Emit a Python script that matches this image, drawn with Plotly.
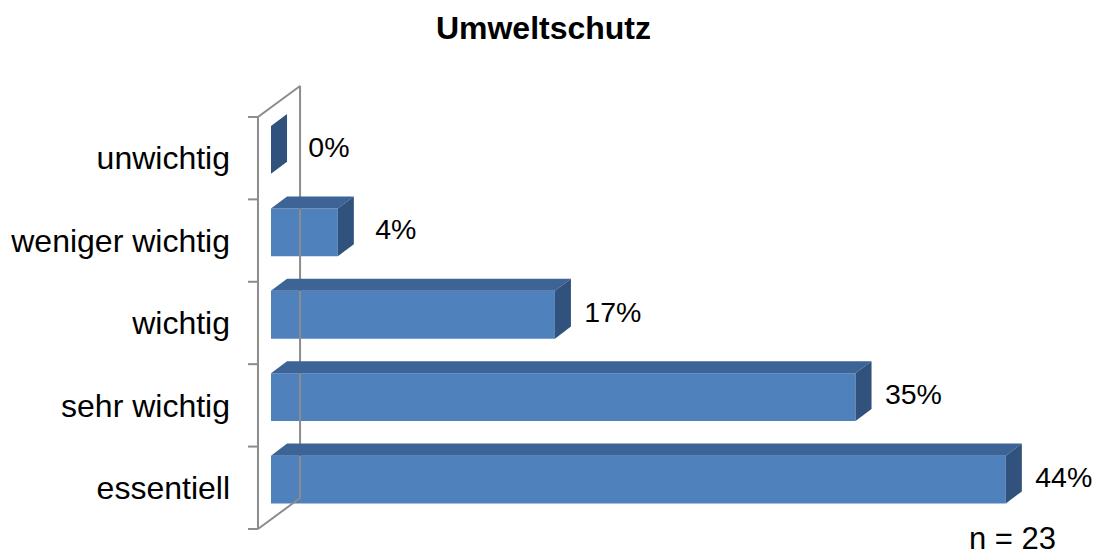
import plotly.graph_objects as go

# data (bottom to top)
categories = ["essentiell", "sehr wichtig", "wichtig", "weniger wichtig", "unwichtig"]
values = [44, 35, 17, 4, 0]
title = "Umweltschutz"
n_note = "n = 23"

FONT = "Liberation Sans, Arial, sans-serif"
FRONT = "#4F81BD"
TOP = "#3C6496"
SIDE = "#30527D"
GRID = "#8C8C8C"

# 3d look, in axis units
bar_w = 0.58      # front face height
bar_off = 0.1     # bars sit a bit above the category centre
dx, dy = 0.96, 0.146  # depth of bars

ys = [i + bar_off for i in range(len(categories))]

# top and side faces as filled polygons
top_x, top_y, side_x, side_y = [], [], [], []
for v, y in zip(values, ys):
    y0, y1 = y - bar_w / 2, y + bar_w / 2
    top_x += [0, v, v + dx, dx, 0, None]
    top_y += [y1, y1, y1 + dy, y1 + dy, y1, None]
    side_x += [v, v, v + dx, v + dx, v, None]
    side_y += [y0, y1, y1 + dy, y0 + dy, y0, None]

# back wall of the chart (parallelogram) and tick marks
wx0, wx1 = -0.78, 1.74
wall_x = [wx0, wx0, wx1, wx1, wx0]
wall_y = [-0.5, 4.5, 4.876, -0.124, -0.5]
tick_x, tick_y = [], []
for k in range(len(categories) + 1):
    tick_x += [-1.38, wx0, None]
    tick_y += [k - 0.5, k - 0.5, None]

fig = go.Figure()
fig.add_trace(go.Scatter(x=wall_x, y=wall_y, mode="lines",
                         line=dict(color=GRID, width=2), hoverinfo="skip"))
fig.add_trace(go.Scatter(x=tick_x, y=tick_y, mode="lines",
                         line=dict(color=GRID, width=2), hoverinfo="skip"))
fig.add_trace(go.Scatter(x=top_x, y=top_y, mode="lines", fill="toself",
                         fillcolor=TOP, line=dict(width=0), hoverinfo="skip"))
fig.add_trace(go.Scatter(x=side_x, y=side_y, mode="lines", fill="toself",
                         fillcolor=SIDE, line=dict(width=0), hoverinfo="skip"))
fig.add_trace(go.Bar(x=values, y=ys, orientation="h", width=bar_w,
                     marker=dict(color=FRONT, line=dict(width=0))))
fig.add_trace(go.Scatter(x=[v + 3.47 for v in values], y=ys, mode="text",
                         text=[f"{v}%" for v in values],
                         textposition="middle center",
                         textfont=dict(family=FONT, size=28.5, color="black")))

fig.add_annotation(x=44.4, y=-0.62, text=n_note, showarrow=False,
                   font=dict(family=FONT, size=31, color="black"))

fig.update_layout(
    width=1099, height=556,
    margin=dict(l=236, r=0, t=70, b=0),
    paper_bgcolor="white", plot_bgcolor="white",
    showlegend=False,
    title=dict(text=f"<b>{title}</b>", x=0.4945, xanchor="center",
               y=1 - 28 / 556, yanchor="middle", yref="container",
               font=dict(family=FONT, size=32, color="black")),
    xaxis=dict(range=[-2.096, 49.58], showticklabels=False, showgrid=False,
               zeroline=False, showline=False),
    yaxis=dict(range=[-0.828, 5.07], tickvals=list(range(len(categories))),
               ticktext=categories, showgrid=False, zeroline=False,
               showline=False, ticks="", ticklabelstandoff=5,
               tickfont=dict(family=FONT, size=32, color="black")),
)

fig.write_html("out.html", config={"displayModeBar": False},
               post_script="document.body.style.margin='0';"
                           "document.body.style.overflow='hidden';")
